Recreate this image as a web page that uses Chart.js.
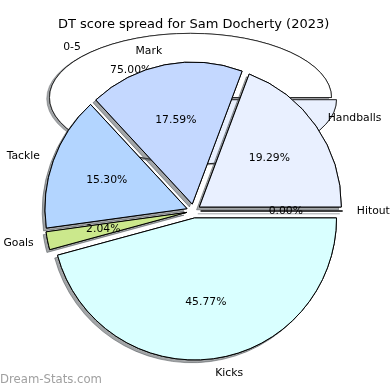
<!DOCTYPE html>
<html lang="en">
<head>
<meta charset="UTF-8">
<script src="https://cdn.jsdelivr.net/npm/chart.js@4/dist/chart.umd.min.js"></script>
<title>DT score spread</title>
<style>
  body { margin: 0; background: #fff; }
  #wrap { position: relative; width: 390px; height: 390px; }
  #wrap canvas { position: absolute; left: 0; top: 0; }
</style>
</head>
<body>
<div id="wrap">
  <canvas id="backChart" width="390" height="390"></canvas>
  <canvas id="myChart" width="390" height="390"></canvas>
</div>
<script>
// main pie, clockwise from 3 o'clock
const labels = ['Kicks', 'Goals', 'Tackle', 'Mark', 'Handballs', 'Hitout'];
const shares = [45.77, 2.04, 15.30, 17.59, 19.29, 0.00];
const colours = ['#d9ffff', '#cbe88c', '#b3d5ff', '#c4d8ff', '#e9f0ff', '#d0e0ff'];

// the squashed leftover pie sitting behind it
const backLabels = ['', '0-5'];
const backShares = [25.00, 75.00];
const backColours = ['#e9f0fe', '#ffffff'];

const FONT = '"DejaVu Sans", sans-serif';

// draws exploded slices with a drop shadow, squash < 1 makes an ellipse
function explodedPie(explode, squash, shadowY) {
    return {
        id: 'explodedPie',
        beforeDatasetsDraw(chart) {
            const ctx = chart.ctx;
            const arcs = chart.getDatasetMeta(0).data;
            const cx = arcs[0].x, cy = arcs[0].y;
            const drawAll = () => arcs.forEach((arc, i) => {
                const mid = (arc.startAngle + arc.endAngle) / 2;
                ctx.save();
                ctx.translate(Math.cos(mid) * explode[i], Math.sin(mid) * explode[i]);
                if (arc.circumference === 0) {
                    // empty slice still leaves its edge line
                    ctx.strokeStyle = '#000';
                    ctx.lineWidth = 1;
                    ctx.beginPath();
                    ctx.moveTo(arc.x, arc.y);
                    ctx.lineTo(arc.x + Math.cos(mid) * arc.outerRadius, arc.y + Math.sin(mid) * arc.outerRadius);
                    ctx.stroke();
                } else {
                    arc.draw(ctx);
                }
                ctx.restore();
            });
            ctx.save();
            ctx.translate(cx, cy);
            ctx.scale(1, squash);
            ctx.translate(-cx, -cy);
            ctx.shadowColor = 'rgba(70,75,80,0.5)';
            ctx.shadowOffsetX = -2.8;
            ctx.shadowOffsetY = shadowY;
            drawAll();
            ctx.shadowColor = 'rgba(0,0,0,0)';
            drawAll();
            ctx.restore();
            return false;
        }
    };
}

function pieLabels(names, values, explode, squash) {
    return {
        id: 'pieLabels',
        afterDraw(chart) {
            const ctx = chart.ctx;
            ctx.save();
            ctx.font = '10.8px ' + FONT;
            ctx.fillStyle = '#000';
            ctx.textBaseline = 'middle';
            chart.getDatasetMeta(0).data.forEach((arc, i) => {
                const mid = (arc.startAngle + arc.endAngle) / 2;
                const c = Math.cos(mid), s = Math.sin(mid);
                const r = arc.outerRadius;
                const at = k => [arc.x + c * (explode[i] + k * r), arc.y + s * (explode[i] + k * r) * squash];
                if (names[i]) {
                    const [lx, ly] = at(1.1);
                    ctx.textAlign = c > 0 ? 'left' : 'right';
                    ctx.fillText(names[i], lx, ly);
                }
                const [px, py] = at(0.6);
                ctx.textAlign = 'center';
                ctx.fillText(values[i].toFixed(2) + '%', px, py);
            });
            ctx.restore();
        }
    };
}

const watermark = {
    id: 'watermark',
    afterDraw(chart) {
        const ctx = chart.ctx;
        ctx.save();
        ctx.font = '12px ' + FONT;
        ctx.fillStyle = '#a0a0a0';
        ctx.textAlign = 'left';
        ctx.textBaseline = 'alphabetic';
        ctx.fillText('Dream-Stats.com', 0, 383, 102);
        ctx.restore();
    }
};

const mainExplode = labels.map(() => 7);
const backExplode = [7, 0];

new Chart(document.getElementById('backChart'), {
    type: 'pie',
    data: {
        labels: backLabels,
        datasets: [{
            data: backShares,
            backgroundColor: backColours,
            borderColor: '#000',
            borderWidth: 1,
            radius: 141,
            rotation: 90
        }]
    },
    options: {
        responsive: false,
        animation: false,
        layout: { padding: { right: 9, bottom: 195 } },
        plugins: { legend: { display: false }, tooltip: { enabled: false } }
    },
    plugins: [explodedPie(backExplode, 0.455, 1.3), pieLabels(backLabels, backShares, backExplode, 0.455)]
});

new Chart(document.getElementById('myChart'), {
    type: 'pie',
    data: {
        labels: labels,
        datasets: [{
            data: shares,
            backgroundColor: colours,
            borderColor: '#000',
            borderWidth: 1,
            radius: 142,
            rotation: 90
        }]
    },
    options: {
        responsive: false,
        animation: false,
        layout: { padding: { right: 2.8, bottom: 0.8 } },
        plugins: {
            legend: { display: false },
            tooltip: { enabled: false },
            title: {
                display: true,
                text: 'DT score spread for Sam Docherty (2023)',
                color: '#000',
                font: { family: FONT, size: 13, weight: 'normal' },
                padding: { top: 17.2, bottom: 0 }
            }
        }
    },
    plugins: [explodedPie(mainExplode, 1, 2.8), pieLabels(labels, shares, mainExplode, 1), watermark]
});
</script>
</body>
</html>
